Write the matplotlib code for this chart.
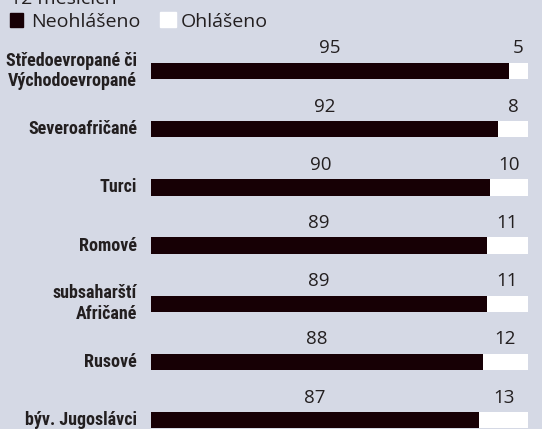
import numpy as np
import matplotlib.pyplot as plt
from matplotlib import font_manager

groups = ["Středoevropané či\nVýchodoevropané", "Severoafričané", "Turci", "Romové",
          "subsaharští\nAfričané", "Rusové", "býv. Jugoslávci"]
not_reported = [95, 92, 90, 89, 89, 88, 87]
reported = [5, 8, 10, 11, 11, 12, 13]
legend_labels = ["Neohlášeno", "Ohlášeno"]
title_tail = "12 měsících"

bg = "#d5d9e5"
dark = "#170005"
txt = "#231f20"

installed = {f.name for f in font_manager.fontManager.ttflist}
narrow = "Roboto"
for cand in ["Roboto Condensed", "Liberation Sans Narrow", "Open Sans Condensed"]:
    if cand in installed:
        narrow = cand
        break
plt.rcParams["font.family"] = ["Open Sans", "DejaVu Sans"]

fig = plt.figure(figsize=(5.42, 4.29), dpi=100, facecolor=bg)
ax = fig.add_axes([151 / 542, 0, 377 / 542, 1])
ax.set_facecolor(bg)

y = np.arange(len(groups))
ax.barh(y, not_reported, height=0.28, color=dark, edgecolor="none")
ax.barh(y, reported, left=not_reported, height=0.28, color="white", edgecolor="none")
ax.set_xlim(0, 100)
ax.set_ylim(6.15, -1.22)
ax.axis("off")

for i, (a, b) in enumerate(zip(not_reported, reported)):
    ax.annotate(str(a), (a / 2, i - 0.14), xytext=(0, 4), textcoords="offset points",
                ha="center", va="bottom", fontsize=13.5, color=txt)
    ax.annotate(str(b), (a + b / 2, i - 0.14), xytext=(0, 4), textcoords="offset points",
                ha="center", va="bottom", fontsize=13.5, color=txt)

for i, g in enumerate(groups):
    ax.annotate(g, (0, i), xytext=(-14, 0), textcoords="offset pixels", ha="right", va="center",
                fontsize=13, fontweight="bold", color=txt, family=[narrow, "DejaVu Sans"],
                linespacing=1.2)

# legend row and cut-off title
fig.text(10 / 542, 1 - 4 / 429, title_tail, ha="left", va="baseline", fontsize=14, color=txt)
fig.patches.append(plt.Rectangle((10 / 542, 1 - 27 / 429), 13 / 542, 14 / 429,
                                 transform=fig.transFigure, color=dark))
fig.text(31 / 542, 1 - 27 / 429, legend_labels[0], ha="left", va="baseline", fontsize=14, color=txt)
fig.patches.append(plt.Rectangle((160 / 542, 1 - 27 / 429), 16 / 542, 15 / 429,
                                 transform=fig.transFigure, color="white"))
fig.text(181 / 542, 1 - 27 / 429, legend_labels[1], ha="left", va="baseline", fontsize=14, color=txt)

fig.savefig("out.png", dpi=100, facecolor=bg)
